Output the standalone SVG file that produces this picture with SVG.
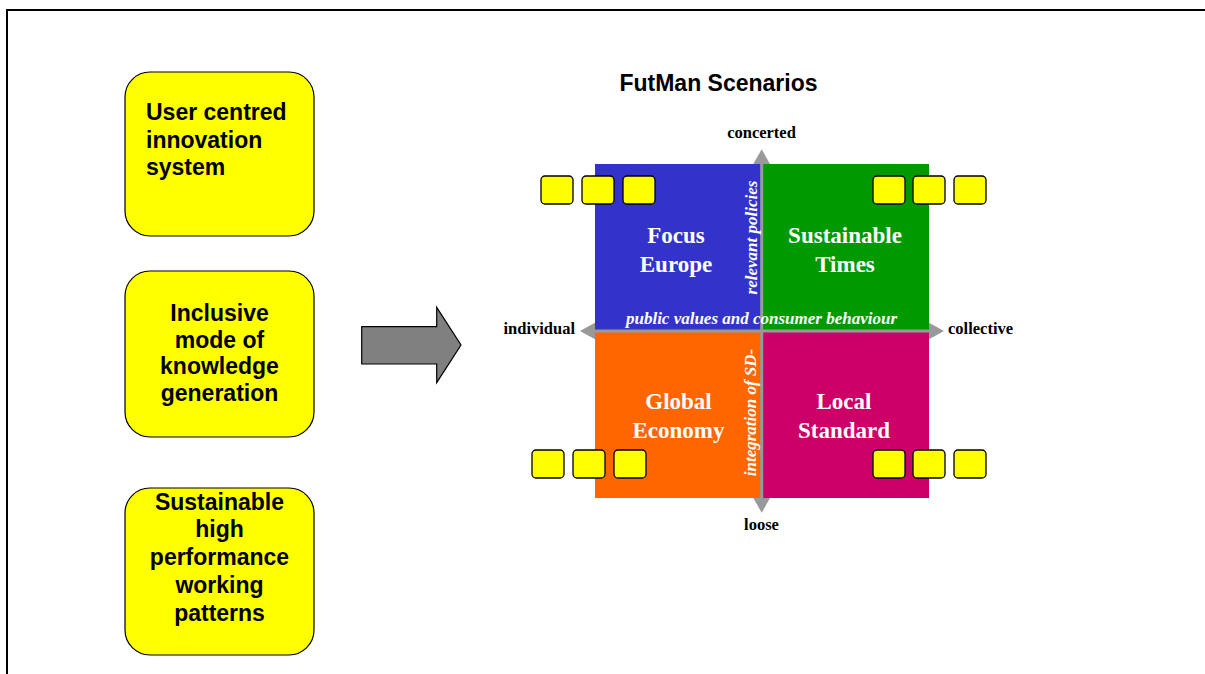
<svg xmlns="http://www.w3.org/2000/svg" width="1205" height="674" viewBox="0 0 1205 674">
  <style>
    .frame { fill: none; stroke: #000; stroke-width: 2; }
    .topic rect { fill: #ffff00; stroke: #000; stroke-width: 1.2; }
    .topic text { font-family: "Liberation Sans", Arial, sans-serif; font-weight: bold; font-size: 23px; fill: #000; }
    .title { font-family: "Liberation Sans", Arial, sans-serif; font-weight: bold; font-size: 23px; fill: #000; text-anchor: middle; }
    .quad text { font-family: "Liberation Serif", "Times New Roman", serif; font-weight: bold; font-size: 23px; fill: #fff; text-anchor: middle; }
    .axis-label { font-family: "Liberation Serif", "Times New Roman", serif; font-weight: bold; font-size: 16.5px; fill: #000; }
    .dim { font-family: "Liberation Serif", "Times New Roman", serif; font-weight: bold; font-style: italic; font-size: 17px; fill: #fff; text-anchor: middle; }
    .chip rect { fill: #ffff00; stroke: #000; stroke-width: 1.3; }
    .axis line { stroke: #999999; stroke-width: 3; }
    .axis path { fill: #999999; }
  </style>

  <!-- page frame -->
  <path class="frame" d="M7,674 V10 H1205"/>

  <!-- topic boxes on the left -->
  <g id="topic-user-centred" class="topic">
    <rect x="125" y="72" width="189" height="164" rx="25" ry="25"/>
    <text x="146" y="120">User centred</text>
    <text x="146" y="147.5">innovation</text>
    <text x="146" y="174.5">system</text>
  </g>
  <g id="topic-inclusive" class="topic">
    <rect x="125" y="271" width="189" height="166" rx="25" ry="25"/>
    <text x="219.5" y="321" text-anchor="middle">Inclusive</text>
    <text x="219.5" y="347.7" text-anchor="middle">mode of</text>
    <text x="219.5" y="374.4" text-anchor="middle">knowledge</text>
    <text x="219.5" y="401.1" text-anchor="middle">generation</text>
  </g>
  <g id="topic-sustainable-work" class="topic">
    <rect x="125" y="488" width="189" height="167" rx="25" ry="25"/>
    <text x="219.5" y="509.5" text-anchor="middle">Sustainable</text>
    <text x="219.5" y="537.3" text-anchor="middle">high</text>
    <text x="219.5" y="565.1" text-anchor="middle">performance</text>
    <text x="219.5" y="592.9" text-anchor="middle">working</text>
    <text x="219.5" y="620.7" text-anchor="middle">patterns</text>
  </g>

  <!-- block arrow -->
  <g id="block-arrow">
    <path d="M361.7,326.7 H436.7 V307.3 L461,345 L436.7,382.7 V364 H361.7 Z" fill="#808080" stroke="#000" stroke-width="1.2" stroke-linejoin="miter"/>
  </g>

  <text id="title" class="title" x="718.5" y="91">FutMan Scenarios</text>

  <!-- scenario quadrants -->
  <g id="quad-focus-europe" class="quad">
    <rect x="595" y="164" width="167" height="167" fill="#3333cc"/>
    <text x="676" y="243">Focus</text>
    <text x="676" y="271.5">Europe</text>
  </g>
  <g id="quad-sustainable-times" class="quad">
    <rect x="762" y="164" width="167" height="167" fill="#009900"/>
    <text x="845" y="243">Sustainable</text>
    <text x="845" y="271.5">Times</text>
  </g>
  <g id="quad-global-economy" class="quad">
    <rect x="595" y="331" width="167" height="167" fill="#ff6600"/>
    <text x="678.5" y="409">Global</text>
    <text x="678.5" y="437.5">Economy</text>
  </g>
  <g id="quad-local-standard" class="quad">
    <rect x="762" y="331" width="167" height="167" fill="#cc0066"/>
    <text x="844" y="409">Local</text>
    <text x="844" y="437.5">Standard</text>
  </g>

  <!-- axes -->
  <g id="axes" class="axis">
    <line x1="761.7" y1="160" x2="761.7" y2="502"/>
    <line x1="590" y1="331" x2="934" y2="331"/>
    <path d="M761.7,149.3 L770,164 L753.3,164 Z"/>
    <path d="M761.7,512.7 L770,498 L753.3,498 Z"/>
    <path d="M580,331 L595,322.7 L595,339.3 Z"/>
    <path d="M944,331 L929,322.7 L929,339.3 Z"/>
  </g>

  <!-- axis dimension labels -->
  <g id="dimension-labels">
    <text class="dim" x="761.5" y="324">public values and consumer behaviour</text>
    <text class="dim" transform="translate(756.5,237.5) rotate(-90)">relevant policies</text>
    <text class="dim" transform="translate(756,412.5) rotate(-90)">integration of SD-</text>
  </g>

  <!-- axis end labels -->
  <g id="axis-ends">
    <text class="axis-label" x="761.5" y="138.3" text-anchor="middle">concerted</text>
    <text class="axis-label" x="761.5" y="530" text-anchor="middle">loose</text>
    <text class="axis-label" x="575" y="334" text-anchor="end">individual</text>
    <text class="axis-label" x="948" y="334">collective</text>
  </g>

  <!-- placeholder chips around the quadrants -->
  <g id="chips-top-left" class="chip">
    <rect x="541" y="176" width="32" height="28" rx="4"/>
    <rect x="582" y="176" width="32" height="28" rx="4"/>
    <rect x="623" y="176" width="32" height="28" rx="4"/>
  </g>
  <g id="chips-top-right" class="chip">
    <rect x="873" y="176" width="32" height="28" rx="4"/>
    <rect x="913" y="176" width="32" height="28" rx="4"/>
    <rect x="954" y="176" width="32" height="28" rx="4"/>
  </g>
  <g id="chips-bottom-left" class="chip">
    <rect x="532" y="450" width="32" height="28" rx="4"/>
    <rect x="573" y="450" width="32" height="28" rx="4"/>
    <rect x="614" y="450" width="32" height="28" rx="4"/>
  </g>
  <g id="chips-bottom-right" class="chip">
    <rect x="873" y="450" width="32" height="28" rx="4"/>
    <rect x="913" y="450" width="32" height="28" rx="4"/>
    <rect x="954" y="450" width="32" height="28" rx="4"/>
  </g>
</svg>
